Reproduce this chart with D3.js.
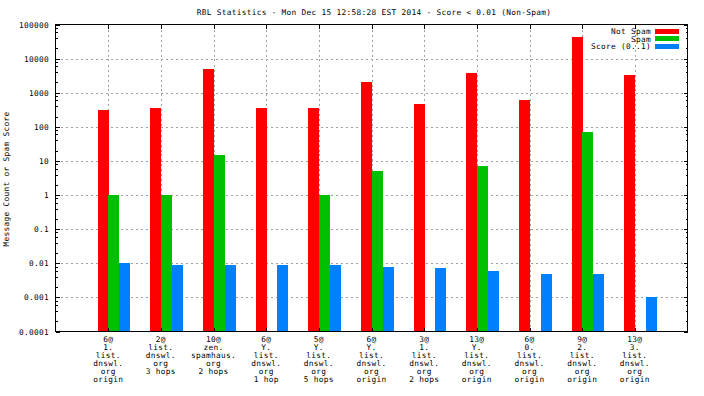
<!DOCTYPE html>
<html>
<head>
<meta charset="utf-8">
<script src="https://cdn.jsdelivr.net/npm/d3@7"></script>
<style>
  body { margin: 0; background: #fff; }
  svg text { font-family: "DejaVu Sans Mono", monospace; font-size: 7.8px; letter-spacing: 0.3px; fill: #000; }
</style>
</head>
<body>
<svg width="704" height="396"></svg>
<script>
// categories (multi-line tick labels)
var categories = [
  "6@\n1.\nlist.\ndnswl.\norg\norigin",
  "2@\nlist.\ndnswl.\norg\n3 hops",
  "10@\nzen.\nspamhaus.\norg\n2 hops",
  "6@\nY.\nlist.\ndnswl.\norg\n1 hop",
  "5@\nY.\nlist.\ndnswl.\norg\n5 hops",
  "6@\nY.\nlist.\ndnswl.\norg\norigin",
  "3@\n1.\nlist.\ndnswl.\norg\n2 hops",
  "13@\nY.\nlist.\ndnswl.\norg\norigin",
  "6@\n0.\nlist.\ndnswl.\norg\norigin",
  "9@\n2.\nlist.\ndnswl.\norg\norigin",
  "13@\n3.\nlist.\ndnswl.\norg\norigin"
];

var notSpam = [310, 350, 4900, 350, 350, 2050, 460, 3750, 600, 44000, 3300];
var spam    = [1, 1, 15, 0, 1, 5, 0, 7, 0, 70, 0];
var score   = [0.01, 0.009, 0.009, 0.009, 0.009, 0.008, 0.0075, 0.006, 0.005, 0.005, 0.001];

var seriesNames = ["Not Spam", "Spam", "Score (0..1)"];
var colors = ["#ff0000", "#00c000", "#0080ff"];

var yTicks = [1e5, 1e4, 1e3, 100, 10, 1, 0.1, 0.01, 0.001, 0.0001];
var yTickLabels = ["100000", "10000", "1000", "100", "10", "1", "0.1", "0.01", "0.001", "0.0001"];

var title = "RBL Statistics - Mon Dec 15 12:58:28 EST 2014 - Score < 0.01 (Non-Spam)";
var yTitle = "Message Count or Spam Score";

var svg = d3.select("svg");
var pLeft = 55.5, pRight = 687.5, pTop = 24.5, pBottom = 331.5;

var x = d3.scaleLinear().domain([0, categories.length + 1]).range([pLeft, pRight]);
var y = d3.scaleLog().domain([1e-4, 1e5]).range([pBottom, pTop]);

var grid = svg.append("g")
  .attr("stroke", "#a0a0a0")
  .attr("stroke-dasharray", "2,3")
  .attr("shape-rendering", "crispEdges");

// horizontal grid at decades
grid.selectAll("line.h")
  .data(yTicks.slice(1, -1))
  .enter().append("line")
  .attr("x1", pLeft).attr("x2", pRight)
  .attr("y1", d => Math.round(y(d)) + 0.5)
  .attr("y2", d => Math.round(y(d)) + 0.5);

// vertical grid at categories
grid.selectAll("line.v")
  .data(categories)
  .enter().append("line")
  .attr("x1", (d, i) => Math.round(x(i + 1)) + 0.5)
  .attr("x2", (d, i) => Math.round(x(i + 1)) + 0.5)
  .attr("y1", pTop).attr("y2", pBottom);

// bars: three per category, slightly overlapping, drawn in order
var series = [notSpam, spam, score];
var bw = 0.21;
series.forEach(function(vals, s) {
  var g = svg.append("g").attr("fill", colors[s]).attr("shape-rendering", "crispEdges");
  vals.forEach(function(v, i) {
    if (v <= 0) return;
    var x0 = x(i + 1 - 0.2 + s * 0.205);
    var x1 = x(i + 1 - 0.2 + s * 0.205 + bw);
    g.append("rect")
      .attr("x", Math.round(x0))
      .attr("width", Math.round(x1) - Math.round(x0))
      .attr("y", Math.round(y(v)))
      .attr("height", Math.round(pBottom) - Math.round(y(v)));
  });
});

// axes
var ax = svg.append("g").attr("stroke", "#000").attr("shape-rendering", "crispEdges");
ax.append("rect")
  .attr("x", pLeft).attr("y", pTop)
  .attr("width", pRight - pLeft).attr("height", pBottom - pTop)
  .attr("fill", "none");

// major y ticks (left & right)
yTicks.forEach(function(t) {
  var yy = Math.round(y(t)) + 0.5;
  ax.append("line").attr("x1", pLeft).attr("x2", pLeft + 4).attr("y1", yy).attr("y2", yy);
  ax.append("line").attr("x1", pRight - 4).attr("x2", pRight).attr("y1", yy).attr("y2", yy);
});
// minor y ticks
yTicks.slice(1).forEach(function(t) {
  [2, 4, 6, 8].forEach(function(m) {
    var yy = Math.round(y(t * m)) + 0.5;
    ax.append("line").attr("x1", pLeft).attr("x2", pLeft + 2).attr("y1", yy).attr("y2", yy);
    ax.append("line").attr("x1", pRight - 2).attr("x2", pRight).attr("y1", yy).attr("y2", yy);
  });
});
// x ticks top & bottom
categories.forEach(function(c, i) {
  var xx = Math.round(x(i + 1)) + 0.5;
  ax.append("line").attr("x1", xx).attr("x2", xx).attr("y1", pTop).attr("y2", pTop + 4);
  ax.append("line").attr("x1", xx).attr("x2", xx).attr("y1", pBottom - 4).attr("y2", pBottom);
});

// y tick labels
svg.append("g").selectAll("text")
  .data(yTicks)
  .enter().append("text")
  .attr("x", 49)
  .attr("y", d => y(d) + 3)
  .attr("text-anchor", "end")
  .text((d, i) => yTickLabels[i]);

// x tick labels
categories.forEach(function(c, i) {
  var t = svg.append("text")
    .attr("text-anchor", "middle")
    .attr("x", x(i + 1))
    .attr("y", 342);
  c.split("\n").forEach(function(line, k) {
    t.append("tspan").attr("x", x(i + 1)).attr("dy", k === 0 ? 0 : 8).text(line);
  });
});

// title
svg.append("text")
  .attr("x", 374)
  .attr("y", 15)
  .attr("text-anchor", "middle")
  .text(title);

// y axis title
svg.append("text")
  .attr("transform", "translate(9,179) rotate(-90)")
  .attr("text-anchor", "middle")
  .text(yTitle);

// legend
var legendRows = [31, 38.5, 46];
seriesNames.forEach(function(name, s) {
  svg.append("text")
    .attr("x", 651)
    .attr("y", legendRows[s] + 3)
    .attr("text-anchor", "end")
    .text(name);
  svg.append("rect")
    .attr("x", 655).attr("y", Math.round(legendRows[s] - 2.5))
    .attr("width", 24).attr("height", 5)
    .attr("fill", colors[s]);
});
</script>
</body>
</html>
